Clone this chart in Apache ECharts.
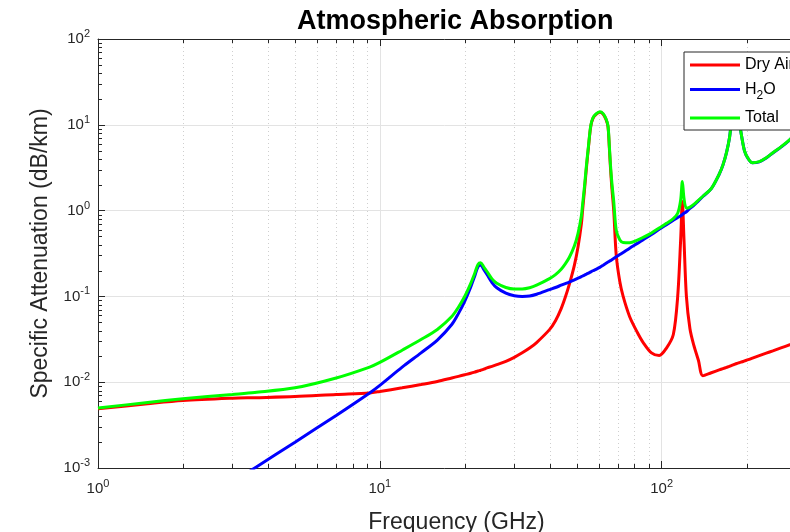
<!DOCTYPE html>
<html>
<head>
<meta charset="utf-8">
<script src="https://cdn.jsdelivr.net/npm/echarts@6.0.0/dist/echarts.min.js"></script>
<style>
  html, body { margin: 0; padding: 0; background: #fff; }
  #main { width: 790px; height: 532px; }
</style>
</head>
<body>
<div id="main"></div>
<script>
// frequency samples (GHz)
var freq = [1, 1.5, 2, 3, 3.6, 5, 7, 9.2, 10, 12, 14, 16, 18, 19, 20, 21, 21.7, 22.3, 22.8, 23.4,
  24, 25, 26, 28, 30, 32, 34, 36, 40, 42, 44, 45.5, 47, 49, 50.5, 51.9, 52.4, 53.2, 54.1, 55, 56, 57,
  58.5, 60.3, 62, 63.5, 64.5, 65.2, 65.8, 66.6, 67.6, 69, 71, 73, 77, 82, 86, 92, 98, 104, 110, 114,
  116.8, 118.4, 120, 122.4, 126, 130, 135, 140, 150, 160, 165, 170, 174, 176.5, 179, 181, 183.3, 185.5, 187.5, 189,
  192, 197, 203, 210, 222, 235, 248, 265, 285, 310, 350];

// specific attenuation, dB/km
var dryAir = [0.0049, 0.0056, 0.0061, 0.0065, 0.0066, 0.0068, 0.0072, 0.0075, 0.0078, 0.0086, 0.0094, 0.0102, 0.0112, 0.0117, 0.0122, 0.0127, 0.0131, 0.0135, 0.0138, 0.0142,
  0.0147, 0.0153, 0.0160, 0.0175, 0.0195, 0.022, 0.025, 0.029, 0.041, 0.052, 0.072, 0.0975, 0.137, 0.23, 0.38, 0.70, 1.0, 1.7, 3.2, 5.5, 9.5, 11.8,
  13.2, 14.0, 13.3, 11.5, 9.5, 5.5, 3.2, 1.8, 1.0, 0.30, 0.15, 0.10, 0.058, 0.038, 0.029, 0.022, 0.0205, 0.025, 0.036, 0.10,
  0.46, 1.28, 0.46, 0.10, 0.042, 0.027, 0.018, 0.0119, 0.0129, 0.0139, 0.0144, 0.0149, 0.0153, 0.0156, 0.0159, 0.0161, 0.0164, 0.0166, 0.0168, 0.0169,
  0.0172, 0.0177, 0.0183, 0.0191, 0.0204, 0.0218, 0.0232, 0.0251, 0.0273, 0.030, 0.034];

var h2o = [0.00007, 0.00016, 0.00028, 0.00068, 0.0010, 0.0020, 0.0041, 0.0075, 0.0092, 0.0150, 0.022, 0.031, 0.047, 0.063, 0.0875, 0.128, 0.172, 0.222, 0.232, 0.205,
  0.180, 0.145, 0.126, 0.109, 0.102, 0.100, 0.101, 0.106, 0.120, 0.127, 0.135, 0.141, 0.147, 0.156, 0.163, 0.170, 0.173, 0.177, 0.182, 0.187, 0.193, 0.199,
  0.207, 0.218, 0.231, 0.243, 0.251, 0.257, 0.261, 0.268, 0.277, 0.289, 0.307, 0.325, 0.365, 0.415, 0.459, 0.527, 0.605, 0.685, 0.77, 0.83,
  0.87, 0.90, 0.93, 0.97, 1.06, 1.15, 1.30, 1.46, 1.80, 2.65, 3.4, 4.8, 7.0, 10.5, 16, 24, 30, 24, 15, 10.5,
  7.5, 4.9, 4.0, 3.6, 3.7, 4.1, 4.7, 5.5, 6.7, 9.0, 12.0];

var total = [0.0050, 0.0058, 0.0064, 0.0072, 0.0076, 0.0086, 0.0112, 0.0150, 0.0170, 0.0236, 0.0314, 0.0412, 0.0582, 0.0747, 0.0997, 0.141, 0.185, 0.236, 0.246, 0.219,
  0.195, 0.160, 0.142, 0.127, 0.122, 0.122, 0.126, 0.135, 0.161, 0.179, 0.207, 0.239, 0.284, 0.386, 0.543, 0.87, 1.17, 1.88, 3.38, 5.69, 9.69, 12.0,
  13.4, 14.2, 13.5, 11.7, 9.75, 5.76, 3.46, 2.07, 1.28, 0.589, 0.457, 0.425, 0.423, 0.453, 0.488, 0.549, 0.626, 0.71, 0.806, 0.93,
  1.33, 2.18, 1.39, 1.07, 1.10, 1.18, 1.32, 1.47, 1.81, 2.66, 3.41, 4.81, 7.0, 10.5, 16, 24, 30, 24, 15, 10.5,
  7.5, 4.92, 4.02, 3.62, 3.72, 4.12, 4.72, 5.53, 6.73, 9.03, 12.0];

// minor tick / grid positions
var xMinor = [2, 3, 4, 5, 6, 7, 8, 9, 20, 30, 40, 50, 60, 70, 80, 90, 200, 300];
var yMinor = [0.002, 0.003, 0.004, 0.005, 0.006, 0.007, 0.008, 0.009,
  0.02, 0.03, 0.04, 0.05, 0.06, 0.07, 0.08, 0.09,
  0.2, 0.3, 0.4, 0.5, 0.6, 0.7, 0.8, 0.9,
  2, 3, 4, 5, 6, 7, 8, 9,
  20, 30, 40, 50, 60, 70, 80, 90];

var axisColor = '#262626';
var font = '"Liberation Sans", Arial, sans-serif';

function pairs(ys) {
  return freq.map(function (f, i) { return [f, ys[i]]; });
}

function powLabel(v) {
  var e = Math.log10(v);
  if (Math.abs(e - Math.round(e)) > 1e-6) return '';
  return '{b|10}{s|' + Math.round(e) + '}';
}

var labelRich = {
  b: { fontSize: 15, color: axisColor, fontFamily: font },
  s: { fontSize: 11, color: axisColor, fontFamily: font, padding: [0, 0, 10, 0] }
};

var chart = echarts.init(document.getElementById('main'));

chart.setOption({
  animation: false,
  backgroundColor: '#fff',
  textStyle: { fontFamily: font },
  graphic: [{
    type: 'text',
    left: 297,
    top: 8,
    style: {
      text: 'Atmospheric Absorption',
      font: 'bold 27px ' + font,
      fill: '#000'
    }
  }],
  grid: { left: 98, top: 39, width: 717, height: 429, outerBoundsMode: 'none', containLabel: false },
  legend: {
    data: ['Dry Air', 'H2O', 'Total'],
    orient: 'vertical',
    left: 684,
    top: 52,
    icon: 'rect',
    itemWidth: 50,
    itemHeight: 3,
    itemGap: 8.5,
    padding: [5, 40, 4, 6],
    backgroundColor: '#fff',
    borderColor: axisColor,
    borderWidth: 1,
    selectedMode: false,
    formatter: function (name) {
      if (name === 'H2O') return '{n|H}{sub|2}{n|O}';
      return '{n|' + name + '}';
    },
    textStyle: {
      rich: {
        n: { fontSize: 16, color: '#000', fontFamily: font, lineHeight: 20 },
        sub: { fontSize: 12, color: '#000', fontFamily: font, padding: [12, 0, 0, 0] }
      }
    }
  },
  xAxis: [{
    type: 'log',
    logBase: 10,
    min: 1,
    max: 350,
    name: 'Frequency (GHz)',
    nameLocation: 'middle',
    nameGap: 43,
    nameTextStyle: { fontSize: 23, color: axisColor, fontFamily: font },
    axisLine: { lineStyle: { color: axisColor, width: 1 } },
    axisTick: { inside: true, length: 7, lineStyle: { color: axisColor } },
    axisLabel: { margin: 10, formatter: powLabel, rich: labelRich, showMaxLabel: false },
    splitLine: { show: true, lineStyle: { color: '#e3e3e3', width: 1 } }
  }, {
    type: 'log',
    logBase: 10,
    min: 1,
    max: 350,
    position: 'top',
    axisLine: { lineStyle: { color: axisColor, width: 1 } },
    axisTick: { inside: true, length: 7, lineStyle: { color: axisColor } },
    axisLabel: { show: false },
    splitLine: { show: false }
  }],
  yAxis: {
    type: 'log',
    logBase: 10,
    min: 0.001,
    max: 100,
    name: 'Specific Attenuation (dB/km)',
    nameLocation: 'middle',
    nameGap: 46,
    nameTextStyle: { fontSize: 23, color: axisColor, fontFamily: font },
    axisLine: { show: true, lineStyle: { color: axisColor, width: 1 } },
    axisTick: { show: true, inside: true, length: 7, lineStyle: { color: axisColor } },
    axisLabel: { margin: 8, formatter: powLabel, rich: labelRich },
    splitLine: { show: true, lineStyle: { color: '#e3e3e3', width: 1 } }
  },
  series: [{
    type: 'custom',
    z: 1,
    silent: true,
    data: xMinor.map(function (v) { return [v, 1]; }),
    renderItem: function (params, api) {
      var cs = params.coordSys;
      var x = Math.round(api.coord([api.value(0), 1])[0]) + 0.5;
      var top = cs.y, bottom = cs.y + cs.height;
      return {
        type: 'group',
        children: [
          { type: 'line', shape: { x1: x, y1: top, x2: x, y2: bottom }, style: { stroke: '#cfcfcf', lineWidth: 1, lineDash: [1, 3] } },
          { type: 'line', shape: { x1: x, y1: bottom, x2: x, y2: bottom - 4 }, style: { stroke: axisColor, lineWidth: 1 } },
          { type: 'line', shape: { x1: x, y1: top, x2: x, y2: top + 4 }, style: { stroke: axisColor, lineWidth: 1 } }
        ]
      };
    }
  }, {
    type: 'custom',
    z: 1,
    silent: true,
    data: yMinor.map(function (v) { return [1, v]; }),
    renderItem: function (params, api) {
      var cs = params.coordSys;
      var y = Math.round(api.coord([1, api.value(1)])[1]) + 0.5;
      return {
        type: 'line',
        shape: { x1: cs.x, y1: y, x2: cs.x + 4, y2: y },
        style: { stroke: axisColor, lineWidth: 1 }
      };
    }
  }, {
    name: 'Dry Air',
    type: 'line',
    z: 3,
    smooth: 0.3,
    showSymbol: false,
    symbol: 'none',
    color: '#ff0000',
    lineStyle: { color: '#ff0000', width: 3 },
    data: pairs(dryAir)
  }, {
    name: 'H2O',
    type: 'line',
    z: 3,
    smooth: 0.3,
    showSymbol: false,
    symbol: 'none',
    color: '#0000ff',
    lineStyle: { color: '#0000ff', width: 3 },
    data: pairs(h2o)
  }, {
    name: 'Total',
    type: 'line',
    z: 3,
    smooth: 0.3,
    showSymbol: false,
    symbol: 'none',
    color: '#00ff00',
    lineStyle: { color: '#00ff00', width: 3 },
    data: pairs(total)
  }]
});
</script>
</body>
</html>
